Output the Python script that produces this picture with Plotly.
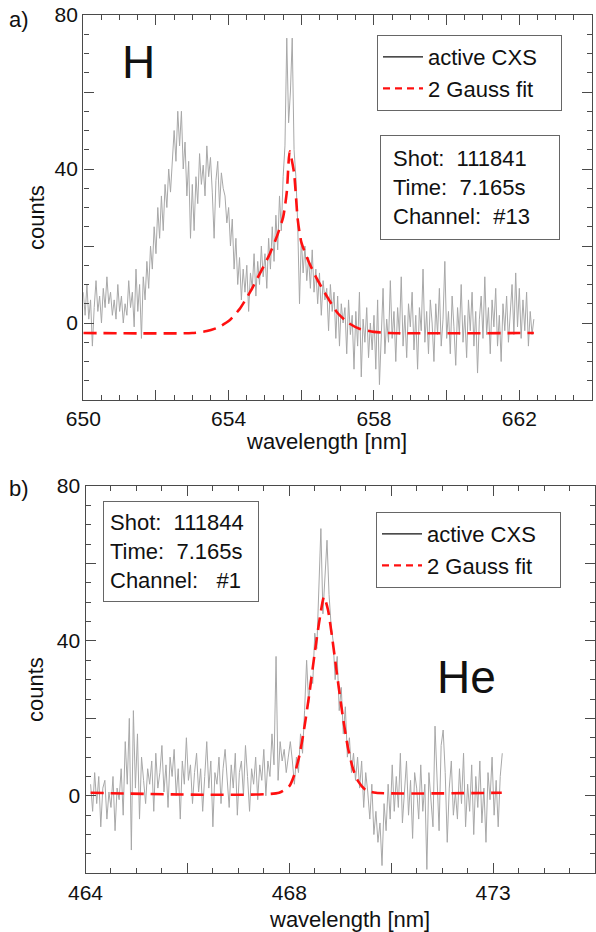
import numpy as np
import plotly.graph_objects as go

# ---------------- data: panel a) (H) ----------------
h_start, h_step = 650.0, 0.05
h_counts = [
    8, 2, 10, 1, 6, -6, 4, 11, 3, 7,          # 650.0
    0, 9, 4, 12, 5, 8, 2, 6, 1, 10,           # 650.5
    3, 7, 0, 5, 2, 11, 4, 8, -1, 14,          # 651.0
    3, 10, -4, 12, 6, 16, 9, 20, 14, 25,      # 651.5
    18, 30, 22, 33, 24, 36, 30, 40, 34, 44,   # 652.0
    50, 42, 55, 46, 55, 40, 47, 33, 42, 22,   # 652.5
    36, 24, 38, 31, 44, 36, 41, 33, 46, 38,   # 653.0
    43, 34, 22, 37, 42, 30, 39, 35, 33, 26,   # 653.5
    30, 20, 27, 14, 22, 10, 17, 6, 14, 8,    # 654.0
    15, 3, 13, 9, 18, 7, 16, 10, 20, 12,      # 654.5
    18, 9, 22, 14, 25, 16, 28, 19, 33, 24,    # 655.0
    38, 46, 74, 52, 60, 74, 45, 38, 26, 5,    # 655.5
    22, 13, 20, 11, 17, 9, 19, 8, 14, 5,      # 656.0
    13, 2, 11, 6, 9, -2, 10, 3, 8, -4,        # 656.5
    7, -6, 5, 0, 4, -8, 6, -3, 2, -12,        # 657.0
    3, -6, 8, -14, 1, -5, 4, -9, 0, -7,       # 657.5
    2, -12, 6, -16, -2, 9, -8, 1, -5, 11,     # 658.0
    -4, 3, -10, 4, -3, 12, -6, 2, -9, 5,      # 658.5
    -1, 8, -7, 2, -12, 4, -2, 14, -5, 3,      # 659.0
    -8, 6, 0, -10, 5, -3, 9, -6, 1, 16,       # 659.5
    -4, 3, -8, 7, -1, -11, 4, -3, 10, -5,     # 660.0
    2, -9, 6, -2, 8, -6, 3, -13, 1, 7,        # 660.5
    -4, 12, -3, 4, -8, 6, -1, 9, -6, 2,       # 661.0
    -10, 5, -2, 7, -5, 3, 10, -3, 13, -1,     # 661.5
    9, -4, 6, -2, 8, -6, 3, -3, 1,            # 662.0
]
h_wl = np.round(h_start + h_step * np.arange(len(h_counts)), 3)

h_fit_wl = [650.0, 653.0, 653.4, 653.7, 654.0, 654.3, 654.6, 654.9, 655.1, 655.3,
            655.5, 655.6, 655.68, 655.8, 655.9, 656.0, 656.2, 656.4, 656.7, 657.0,
            657.3, 657.6, 658.0, 658.4, 662.4]
h_fit = [-2.6, -2.6, -2.1, -1.2, 0.5, 3.6, 8.2, 13.6, 17.3, 21.8,
         27.5, 34.0, 44.6, 39.0, 27.0, 21.0, 16.0, 12.0, 7.0, 2.6,
         0.0, -1.5, -2.3, -2.6, -2.6]

# ---------------- data: panel b) (He) ----------------
he_start, he_step = 464.10, 0.04
he_counts = [
    3, -4, 6, -2, 5, -8, 2, 4, -6, 1,          # 464.1
    -3, 5, -9, 2, -1, 7, -5, 14, 3, 20,        # 464.5
    -14, 22, 2, 16, -6, 10, 4, -2, 7, 3,       # 464.9
    9, -4, 11, 2, 6, 13, 1, 8, -3, 10,         # 465.3
    5, 12, 0, 7, -6, 9, 3, 15, 4, 8,           # 465.7
    -2, 6, 11, 1, 7, -4, 5, 14, 2, 9,          # 466.1
    -8, 6, 3, 10, -2, 7, 12, 4, -3, 8,         # 466.5
    2, 11, -5, 6, 9, 0, 13, 5, -4, 7,          # 466.9
    3, 10, -1, 8, 4, 12, 0, 9, 5, 16,          # 467.3
    8, 36, 4, 14, 9, 12, 6, 10, 14, 9,         # 467.7
    3, 10, 6, 16, 11, 22, 35, 24, 31, 29,      # 468.1
    42, 38, 55, 69, 47, 58, 66, 52, 44, 40,    # 468.5
    30, 36, 22, 28, 16, 23, 10, 15, 6, 11,     # 468.9
    4, 10, 2, 9, -3, 6, 1, -6, 3, -10,         # 469.3
    -4, -12, -7, -18, -2, -9, 3, -6, 8, -4,    # 469.7
    5, -3, 11, -7, 2, 9, -5, 4, -11, 6,        # 470.1
    2, -6, 8, -4, 3, -19, 6, -2, -8, 18,       # 470.5
    4, -9, 13, 17, 6, -12, 2, 9, -5, 1,        # 470.9
    -6, 7, -2, 11, -8, 3, -4, 8, -10, 5,       # 471.3
    -3, 9, -7, 2, -12, 6, -1, 10, -5, 4,       # 471.7
    -8, 5, 11,                                 # 472.1
]
he_wl = np.round(he_start + he_step * np.arange(len(he_counts)), 3)

he_fit_wl = [464.1, 467.8, 468.0, 468.1, 468.2, 468.3, 468.4, 468.5, 468.6, 468.68,
             468.76, 468.85, 468.95, 469.05, 469.15, 469.25, 469.35, 469.5, 469.7, 472.17]
he_fit = [0.8, 0.8, 2.5, 5.5, 10.5, 18.0, 27.0, 37.0, 46.0, 51.4,
          48.0, 40.0, 30.0, 20.5, 12.5, 7.0, 3.8, 1.5, 0.8, 0.8]

# ---------------- labels ----------------
series_names = ["active CXS", "2 Gauss fit"]
h_xticks = [650, 652, 654, 656, 658, 660, 662, 664]
h_xtext = ["650", "", "654", "", "658", "", "662", ""]
he_xticks = [464, 466, 468, 470, 472, 474]
he_xtext = ["464", "", "468", "", "473", ""]
yticks = [-20, 0, 20, 40, 60, 80]
ytext = ["", "0", "", "40", "", "80"]
info_a = ["Shot:\u00a0\u00a0111841", "Time:\u00a0\u00a07.165s", "Channel:\u00a0\u00a0#13"]
info_b = ["Shot:\u00a0\u00a0111844", "Time:\u00a0\u00a07.165s", "Channel:\u00a0\u00a0\u00a0#1"]

FONT = "Liberation Sans, Arial, sans-serif"
W, H = 596, 932
AX = "#4a4a4a"
GRAY = "#a8a8a8"
RED = "#ff1010"
DASH = "13px,7px"
PAD = "\u00a0\u00a0\u00a0"

fig = go.Figure()
# panel a
fig.add_trace(go.Scatter(x=h_wl, y=h_counts, mode="lines", line=dict(color=GRAY, width=1),
                         showlegend=False, xaxis="x", yaxis="y"))
fig.add_trace(go.Scatter(x=h_fit_wl, y=h_fit, mode="lines",
                         line=dict(color=RED, width=2.6, dash=DASH, shape="spline", smoothing=0.6),
                         showlegend=False, xaxis="x", yaxis="y"))
fig.add_trace(go.Scatter(x=[None], y=[None], mode="lines", name=series_names[0] + PAD,
                         line=dict(color="#111111", width=1.3), legend="legend", xaxis="x", yaxis="y"))
fig.add_trace(go.Scatter(x=[None], y=[None], mode="lines", name=series_names[1],
                         line=dict(color=RED, width=2.4, dash="7px,5px"), legend="legend", xaxis="x", yaxis="y"))
# panel b
fig.add_trace(go.Scatter(x=he_wl, y=he_counts, mode="lines", line=dict(color=GRAY, width=1),
                         showlegend=False, xaxis="x2", yaxis="y2"))
fig.add_trace(go.Scatter(x=he_fit_wl, y=he_fit, mode="lines",
                         line=dict(color=RED, width=2.6, dash=DASH, shape="spline", smoothing=0.6),
                         showlegend=False, xaxis="x2", yaxis="y2"))
fig.add_trace(go.Scatter(x=[None], y=[None], mode="lines", name=series_names[0] + PAD,
                         line=dict(color="#111111", width=1.3), legend="legend2", xaxis="x2", yaxis="y2"))
fig.add_trace(go.Scatter(x=[None], y=[None], mode="lines", name=series_names[1],
                         line=dict(color=RED, width=2.4, dash="7px,5px"), legend="legend2", xaxis="x2", yaxis="y2"))


def axis(domain, rng, tv, tt, minor_dt, anchor):
    return dict(domain=domain, range=rng, anchor=anchor, tickmode="array", tickvals=tv, ticktext=tt,
                ticks="inside", ticklen=10, tickwidth=1.2, tickcolor=AX,
                showline=True, linecolor=AX, linewidth=1.4, mirror="ticks",
                minor=dict(tickmode="linear", tick0=rng[0], dtick=minor_dt, ticks="inside", ticklen=5,
                           tickwidth=1.1, tickcolor=AX, showgrid=False),
                showgrid=False, zeroline=False, automargin=False,
                tickfont=dict(family=FONT, size=21, color="#111"))


def px(x):
    return x / W


def py(y):
    return 1 - y / H


leg_font = dict(family=FONT, size=22, color="#111")
fig.update_layout(
    width=W, height=H, margin=dict(l=0, r=0, t=0, b=0),
    paper_bgcolor="white", plot_bgcolor="white",
    xaxis=axis([px(83.3), px(592)], [650, 664], h_xticks, h_xtext, 0.5, "y"),
    yaxis=axis([py(400), py(15)], [-20, 80], yticks, ytext, 5, "x"),
    xaxis2=axis([px(85.5), px(595)], [464, 474], he_xticks, he_xtext, 0.5, "y2"),
    yaxis2=axis([py(873.3), py(486)], [-20, 80], yticks, ytext, 5, "x2"),
    legend=dict(x=px(377), y=py(35), xanchor="left", yanchor="top", bgcolor="white",
                bordercolor="#666", borderwidth=1, font=leg_font, itemwidth=40, tracegroupgap=0),
    legend2=dict(x=px(376), y=py(512), xanchor="left", yanchor="top", bgcolor="white",
                 bordercolor="#666", borderwidth=1, font=leg_font, itemwidth=40, tracegroupgap=0),
    showlegend=True,
)

ann_font = dict(family=FONT, size=22, color="#111")


def label(text, x, y, size=22, angle=0):
    return dict(text=text, x=px(x), y=py(y), xref="paper", yref="paper", showarrow=False,
                xanchor="center", yanchor="middle", textangle=angle,
                font=dict(family=FONT, size=size, color="#111"))


annotations = [
    label("a)", 19, 19),
    label("b)", 19, 488),
    label("H", 138, 62, size=46),
    label("He", 466, 677, size=46),
    label("counts", 37, 218, angle=-90),
    label("counts", 35, 690, angle=-90),
    label("wavelength [nm]", 326, 442),
    label("wavelength [nm]", 349, 919),
    dict(text="<br>".join(info_a), x=px(380), y=py(135), xref="paper", yref="paper",
         xanchor="left", yanchor="top", showarrow=False, align="left", width=154, height=79,
         borderpad=12, bordercolor="#666", borderwidth=1, bgcolor="white", font=ann_font),
    dict(text="<br>".join(info_b), x=px(103), y=py(501), xref="paper", yref="paper",
         xanchor="left", yanchor="top", showarrow=False, align="left", width=142, height=87,
         borderpad=6, bordercolor="#666", borderwidth=1, bgcolor="white", font=ann_font),
]
fig.update_layout(annotations=annotations)

fig.write_html("out.html", config={"displayModeBar": False},
               post_script="document.body.style.margin='0px';")
